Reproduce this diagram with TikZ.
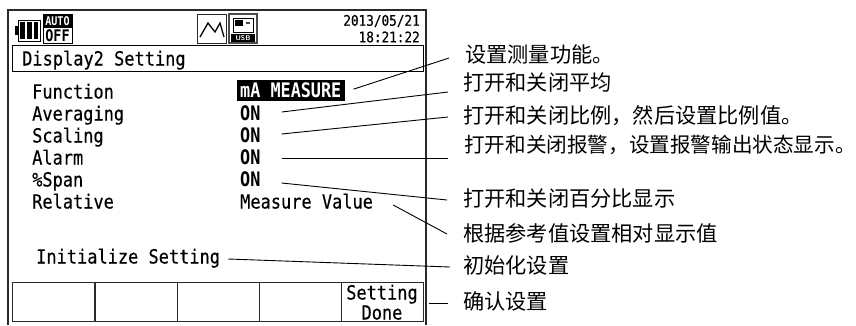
\documentclass[tikz,border=0pt]{standalone}
\usepackage{fontspec}
\newfontfamily\lcdfont[FakeStretch=0.87,FakeBold=0.35]{DejaVu Sans Mono}
\newfontfamily\lcdbold[FakeStretch=0.84]{DejaVu Sans Mono Bold}
\newfontfamily\cjkfont{Noto Sans CJK SC}
\definecolor{lcdline}{HTML}{2A2A2A}
\tikzset{
    lcdtext/.style={anchor=west, inner sep=0pt, text height=16pt, text depth=3pt, text=black,
        font=\lcdfont\fontsize{19.5}{19.5}\selectfont},
    lcdvalue/.style={lcdtext, font=\lcdbold\fontsize{20}{20}\selectfont},
    lcdsmall/.style={anchor=east, inner sep=0pt, text=black,
        font=\lcdfont\fontsize{14.6}{14.6}\selectfont},
    softkey/.style={draw=lcdline, line width=0.9pt, anchor=north west, inner sep=0pt,
        minimum width=82pt, minimum height=39pt},
    keytext/.style={lcdtext, anchor=center},
    cnote/.style={anchor=west, inner sep=0pt, text height=15pt, text depth=3pt,
        font=\cjkfont\fontsize{21.2}{21.2}\selectfont},
    callout/.style={black, line width=0.9pt},
}
\begin{document}
\begin{tikzpicture}[x=1pt, y=-1pt]
    \useasboundingbox (0,0) rectangle (856,325);

    % screen frame, open at the bottom
    \draw[lcdline, line width=1.1pt] (8,325) -- (8,10) -- (426,10) -- (426,325);

    % battery
    \draw[black, line width=1pt] (18,20) rectangle (40,41);
    \fill[black] (15,26) rectangle (18,35);
    \fill[black] (20,22) rectangle (25,39);
    \fill[black] (27,22) rectangle (32,39);
    \fill[black] (34,22) rectangle (38,39);

    % auto off
    \draw[black, line width=1pt] (43,14) rectangle (72,43);
    \fill[black] (43,14) rectangle (72,28);
    \node[inner sep=0pt, text=white, font=\lcdbold\fontsize{12}{12}\selectfont] (autotext) at (57.5,21) {AUTO};
    \node[inner sep=0pt, text=black, font=\lcdbold\fontsize{16}{16}\selectfont] (offtext) at (57.5,35.5) {OFF};

    % wave and usb
    \draw[lcdline, line width=1pt] (197,14) rectangle (226,43);
    \draw[black, line width=1.3pt] (200,37) -- (208,23) -- (215,32) -- (220,23) -- (224,37);
    \draw[black!70, line width=1.6pt] (229,14) rectangle (257,43);
    \draw[black, line width=0.9pt] (233,18) rectangle (253,32);
    \fill[black] (235,20) rectangle (243,26);
    \fill[black!70] (246,22) rectangle (250,24);
    \fill[black] (231,34) rectangle (255,42);
    \node[inner sep=0pt, text=white, font=\sffamily\bfseries\fontsize{7}{7}\selectfont] (usbtext) at (243,38) {USB};

    % date and time
    \node[lcdsmall] (datetext) at (420,21) {2013/05/21};
    \node[lcdsmall] (timetext) at (420,37) {18:21:22};

    % title bar
    \node[draw=black, line width=1.1pt, anchor=north west, inner sep=0pt, minimum width=411pt, minimum height=26pt] (titlebar) at (12,45) {};
    \node[lcdtext] (titletext) at (22,59) {Display2 Setting};

    % settings
    \node[lcdtext] (itemFunction) at (32,92) {Function};
    \node[lcdtext] (itemAveraging) at (32,114) {Averaging};
    \node[lcdtext] (itemScaling) at (32,136) {Scaling};
    \node[lcdtext] (itemAlarm) at (32,158) {Alarm};
    \node[lcdtext] (itemSpan) at (32,180) {\%Span};
    \node[lcdtext] (itemRelative) at (32,202) {Relative};

    \node[fill=black, anchor=north west, inner sep=0pt, minimum width=108pt, minimum height=21pt] (valbox) at (237,80) {};
    \node[lcdvalue, text=white] (valFunction) at (240,91) {mA MEASURE};
    \node[lcdvalue] (valAveraging) at (240,114) {ON};
    \node[lcdvalue] (valScaling) at (240,136) {ON};
    \node[lcdvalue] (valAlarm) at (240,158) {ON};
    \node[lcdvalue] (valSpan) at (240,180) {ON};
    \node[lcdtext] (valRelative) at (240,202) {Measure Value};
    \node[lcdtext] (itemInit) at (36,257) {Initialize Setting};

    % soft keys
    \node[softkey] (key1) at (12,282) {};
    \node[softkey] (key2) at (95,282) {};
    \node[softkey] (key3) at (177,282) {};
    \node[softkey] (key4) at (259,282) {};
    \node[softkey] (key5) at (341,282) {};
    \node[keytext] (keySetting) at (382,293) {Setting};
    \node[keytext] (keyDone) at (382,313) {Done};

    % notes
    \node[cnote] (noteFunction) at (465,56) {设置测量功能。};
    \node[cnote] (noteAveraging) at (463,84) {打开和关闭平均};
    \node[cnote] (noteScaling) at (463,117) {打开和关闭比例，然后设置比例值。};
    \node[cnote, font=\cjkfont\fontsize{20.6}{20.6}\selectfont] (noteAlarm) at (464,146) {打开和关闭报警，设置报警输出状态显示。};
    \node[cnote] (noteSpan) at (463,200) {打开和关闭百分比显示};
    \node[cnote] (noteRelative) at (463,235) {根据参考值设置相对显示值};
    \node[cnote] (noteInit) at (463,267) {初始化设置};
    \node[cnote] (noteDone) at (463,303) {确认设置};

    \draw[callout] ([xshift=8pt,yshift=1.5pt]valbox.east) -- ([xshift=-16pt,yshift=-2pt]noteFunction.west);
    \draw[callout] ([xshift=21pt,yshift=2pt]valAveraging.east) -- ([xshift=-15pt,yshift=-8pt]noteAveraging.west);
    \draw[callout] ([xshift=21pt,yshift=2pt]valScaling.east) -- ([xshift=-15pt]noteScaling.west);
    \draw[callout] ([xshift=21pt]valAlarm.east) -- ([xshift=-16pt,yshift=-12pt]noteAlarm.west);
    \draw[callout] ([xshift=21pt,yshift=-3pt]valSpan.east) -- ([xshift=-16pt]noteSpan.west);
    \draw[callout] ([xshift=20pt,yshift=-3pt]valRelative.east) -- ([xshift=-16pt,yshift=1pt]noteRelative.west);
    \draw[callout] ([xshift=8pt,yshift=-2pt]itemInit.east) -- ([xshift=-13pt]noteInit.west);
    \draw[callout] ([xshift=5pt]key5.east |- noteDone.west) -- ([xshift=-15pt]noteDone.west);
\end{tikzpicture}
\end{document}
